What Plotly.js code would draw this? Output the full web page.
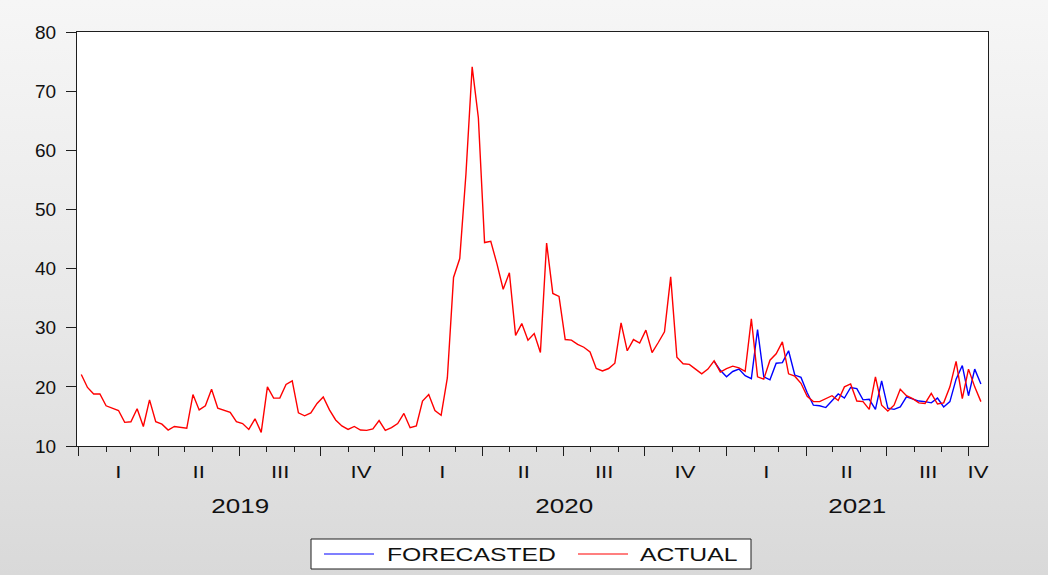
<!DOCTYPE html>
<html>
<head>
<meta charset="utf-8">
<script src="https://cdn.plot.ly/plotly-3.0.1.min.js"></script>
<style>
html,body{margin:0;padding:0;}
body{width:1048px;height:575px;overflow:hidden;background:linear-gradient(to bottom,#f6f6f6 0%,#e8e8e8 55%,#d9d9d9 100%);}
#chart{width:1048px;height:575px;}
</style>
</head>
<body>
<div id="chart"></div>
<script>
// ---- data (weekly observations, first week ending 2019-01-04) ----
const startDate = '2019-01-04';
const seriesNames = ['FORECASTED', 'ACTUAL'];
const seriesColors = ['#0000ff', '#ff0000'];
const actual = [
  22.1, 19.9, 18.8, 18.8, 16.8, 16.4, 16.0, 14.0, 14.1, 16.3,
  13.3, 17.8, 14.1, 13.7, 12.7, 13.3, 13.1, 13.0, 18.7, 16.1,
  16.8, 19.6, 16.4, 16.0, 15.7, 14.1, 13.8, 12.8, 14.6, 12.3,
  20.0, 18.1, 18.1, 20.4, 21.0, 15.6, 15.1, 15.6, 17.2, 18.3,
  16.1, 14.4, 13.4, 12.8, 13.3, 12.7, 12.65, 12.9, 14.3, 12.65,
  13.1, 13.8, 15.5, 13.1, 13.4, 17.6, 18.7, 16.0, 15.2, 21.5,
  38.5, 41.7, 56.0, 74.1, 65.5, 44.4, 44.6, 40.8, 36.5, 39.3,
  28.7, 30.7, 27.9, 29.0, 25.8, 44.3, 35.8, 35.3, 28.0, 27.9,
  27.2, 26.7, 25.9, 23.1, 22.7, 23.1, 24.0, 30.8, 26.1, 28.0,
  27.4, 29.6, 25.8, 27.5, 29.3, 38.6, 25.0, 23.9, 23.8, 23.0,
  22.2, 23.0, 24.4, 22.5, 23.1, 23.5, 23.2, 22.6, 31.5, 21.7,
  21.3, 24.5, 25.6, 27.6, 22.2, 21.8, 20.6, 18.4, 17.5, 17.5,
  18.0, 18.5, 17.7, 20.0, 20.5, 17.6, 17.5, 16.2, 21.7, 16.9,
  15.9, 16.9, 19.6, 18.5, 18.0, 17.3, 17.2, 18.9, 17.1, 17.3,
  20.0, 24.3, 18.0, 23.0, 20.0, 17.5
];
const forecastStartIndex = 102;
const forecasted = [
  24.3, 22.8, 21.7, 22.6, 23.0, 21.9, 21.4, 29.7, 21.7, 21.2,
  24.0, 24.1, 26.1, 22.0, 21.6, 19.0, 16.9, 16.8, 16.5, 17.6,
  18.8, 18.1, 19.9, 19.7, 17.8, 17.9, 16.2, 21.0, 16.4, 16.2,
  16.6, 18.3, 17.9, 17.6, 17.5, 17.3, 18.1, 16.6, 17.5, 21.3,
  23.6, 18.5, 23.0, 20.5
];
const quarterLabels = ['I', 'II', 'III', 'IV'];
const yearLabels = ['2019', '2020', '2021'];
const yTickVals = [10, 20, 30, 40, 50, 60, 70, 80];

// ---- helpers ----
const DAY = 86400000;
function toIso(ms) { return new Date(ms).toISOString().slice(0, 19).replace('T', ' '); }
const startMs = Date.parse(startDate + 'T00:00:00Z');
const dates = actual.map((_, i) => toIso(startMs + 7 * i * DAY));
const fDates = dates.slice(forecastStartIndex, forecastStartIndex + forecasted.length);

const axisStart = Date.UTC(2018, 11, 30, 4);
const axisEnd = Date.UTC(2021, 9, 23);

const W = 1048, H = 575;
const M = {l: 77, r: 60, t: 32, b: 129};
const plotW = W - M.l - M.r, plotH = H - M.t - M.b;
const px2x = px => (px - M.l) / plotW;          // pixel -> paper x
const py2y = py => (H - M.b - py) / plotH;      // pixel -> paper y

const FONT = 'Liberation Sans, Arial, Helvetica, sans-serif';
const INK = '#1e1e1e';
const TXT = '#111111';

const annotations = [];
yearLabels.forEach(yl => {
  const y = parseInt(yl, 10);
  for (let q = 0; q < 4; q++) {
    const s = Date.UTC(y, 3 * q, 1);
    if (s >= axisEnd) continue;
    const e = Math.min(Date.UTC(y, 3 * q + 3, 1), axisEnd);
    annotations.push({
      x: toIso((s + e) / 2), xref: 'x', y: py2y(472), yref: 'paper',
      text: quarterLabels[q], showarrow: false, xanchor: 'center', yanchor: 'middle',
      font: {family: FONT, size: 17, color: TXT}
    });
  }
  const ys = Date.UTC(y, 0, 1);
  const ye = Math.min(Date.UTC(y + 1, 0, 1), axisEnd);
  annotations.push({
    x: toIso((ys + ye) / 2), xref: 'x', y: py2y(506), yref: 'paper',
    text: yl, showarrow: false, xanchor: 'center', yanchor: 'middle',
    font: {family: FONT, size: 20, color: TXT}
  });
});

// ---- legend box drawn as shapes + text (EViews style) ----
const legendBox = {x0: 311, x1: 751, y0: 539, y1: 569};
const legendItems = [
  {lineX0: 324, lineX1: 374, textX: 385},
  {lineX0: 578, lineX1: 628, textX: 638}
];
const legendMidY = (legendBox.y0 + legendBox.y1) / 2;
const shapes = [{
  type: 'rect', xref: 'paper', yref: 'paper',
  x0: px2x(legendBox.x0), x1: px2x(legendBox.x1), y0: py2y(legendBox.y1), y1: py2y(legendBox.y0),
  line: {color: INK, width: 1}, fillcolor: '#ffffff', layer: 'below'
}];
legendItems.forEach((it, k) => {
  shapes.push({
    type: 'line', xref: 'paper', yref: 'paper',
    x0: px2x(it.lineX0), x1: px2x(it.lineX1), y0: py2y(legendMidY), y1: py2y(legendMidY),
    line: {color: seriesColors[k], width: 1.2}
  });
  annotations.push({
    x: px2x(it.textX), xref: 'paper', y: py2y(legendMidY), yref: 'paper',
    text: seriesNames[k], showarrow: false, xanchor: 'left', yanchor: 'middle',
    font: {family: FONT, size: 19, color: TXT}
  });
});

const traces = seriesNames.map((name, k) => ({
  x: k === 0 ? fDates : dates,
  y: k === 0 ? forecasted : actual,
  name: name, type: 'scatter', mode: 'lines',
  line: {color: seriesColors[k], width: 1.4},
  showlegend: false
}));

const layout = {
  width: W, height: H,
  margin: Object.assign({autoexpand: false}, M),
  paper_bgcolor: 'rgba(0,0,0,0)',
  plot_bgcolor: '#ffffff',
  font: {family: FONT, color: TXT},
  showlegend: false,
  xaxis: {
    type: 'date',
    range: [toIso(axisStart), toIso(axisEnd)],
    tickmode: 'linear', tick0: '2019-01-01', dtick: 'M3',
    ticks: 'outside', ticklen: 9, tickwidth: 1, tickcolor: INK,
    showticklabels: false,
    minor: {tickmode: 'linear', tick0: '2019-01-01', dtick: 'M1', ticks: 'outside', ticklen: 5, tickwidth: 1, tickcolor: INK, showgrid: false},
    showgrid: false, zeroline: false,
    showline: true, mirror: true, linecolor: INK, linewidth: 1
  },
  yaxis: {
    range: [10, 80], tickmode: 'array', tickvals: yTickVals,
    ticks: 'outside', ticklen: 10, tickwidth: 1, tickcolor: INK,
    tickfont: {family: FONT, size: 19, color: TXT},
    ticklabelstandoff: 6,
    showgrid: false, zeroline: false,
    showline: true, mirror: true, linecolor: INK, linewidth: 1
  },
  shapes: shapes,
  annotations: annotations
};

// EViews renders its labels horizontally wide; widen the annotation text glyphs to match.
const TEXT_STRETCH = 1.3;
Plotly.newPlot('chart', traces, layout, {displayModeBar: false, staticPlot: true}).then(gd => {
  gd.querySelectorAll('text.annotation-text').forEach(t => {
    const w = t.getComputedTextLength();
    if (!w) return;
    const extra = w * (TEXT_STRETCH - 1);
    t.setAttribute('textLength', (w + extra).toFixed(1));
    t.setAttribute('lengthAdjust', 'spacingAndGlyphs');
    if (seriesNames.indexOf(t.textContent) >= 0) {
      const x = parseFloat(t.getAttribute('x') || '0');
      t.setAttribute('x', (x + extra / 2).toFixed(1));
    }
  });
});
</script>
</body>
</html>
